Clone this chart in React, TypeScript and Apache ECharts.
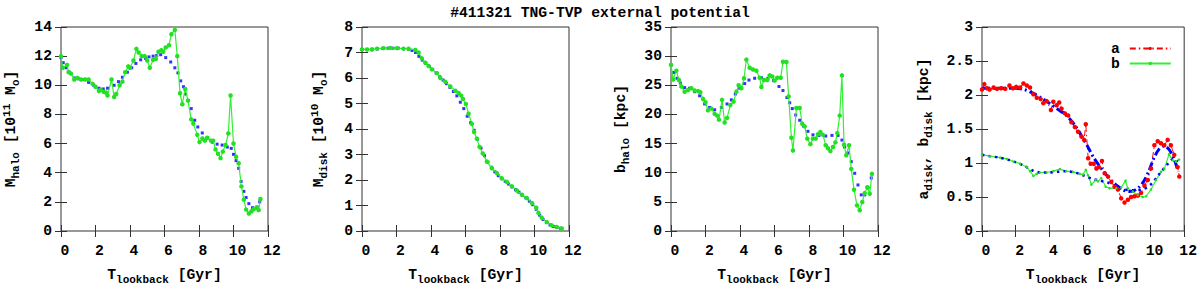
import React, { useEffect, useRef } from "react";
import * as echarts from "echarts";

const FONT = "'Liberation Mono', 'DejaVu Sans Mono', monospace";

const TITLE = "#411321 TNG-TVP external potential";
const X_TICKS = { min: 0, max: 12, interval: 2 };

// Panel 1: M_halo
const T_MHALO = [0, 0.1, 0.35, 0.44, 0.58, 0.77, 0.96, 1.16, 1.4, 1.6, 1.83, 2.0, 2.2, 2.3, 2.47, 2.6, 2.7, 2.93, 3.08, 3.2, 3.4, 3.56, 3.72, 3.9, 4.0, 4.2, 4.37, 4.5, 4.68, 4.85, 5.0, 5.15, 5.34, 5.5, 5.65, 5.82, 5.93, 6.07, 6.26, 6.4, 6.6, 6.74, 6.9, 7.03, 7.2, 7.36, 7.55, 7.67, 7.9, 8.03, 8.2, 8.34, 8.48, 8.7, 8.82, 8.96, 9.1, 9.25, 9.38, 9.54, 9.7, 9.83, 10.0, 10.15, 10.3, 10.46, 10.6, 10.73, 10.89, 11.04, 11.17, 11.33, 11.46, 11.56];
const V_MHALO = [12.0, 11.2, 11.4, 10.9, 10.8, 10.4, 10.5, 10.4, 10.4, 10.4, 10.1, 9.9, 9.6, 9.7, 9.55, 9.5, 9.3, 10.4, 9.2, 9.4, 10.0, 10.25, 10.9, 11.3, 11.2, 11.7, 12.5, 12.25, 12.0, 12.0, 11.7, 11.2, 11.75, 11.8, 12.3, 12.4, 12.3, 12.6, 12.75, 13.5, 13.8, 12.0, 9.45, 8.7, 9.75, 8.95, 7.66, 7.37, 6.6, 6.1, 6.35, 6.2, 6.4, 6.2, 6.2, 5.6, 5.3, 5.0, 5.45, 5.9, 6.7, 9.3, 6.0, 5.1, 4.65, 3.06, 2.15, 1.47, 1.2, 1.36, 1.5, 1.6, 1.43, 2.2];
const T_MHALO_FIT = [0, 0.13, 0.3, 0.48, 0.77, 1.0, 1.25, 1.6, 1.9, 2.2, 2.45, 2.7, 3.08, 3.33, 3.56, 3.85, 4.1, 4.34, 4.62, 4.9, 5.1, 5.34, 5.55, 5.78, 6.07, 6.36, 6.6, 6.78, 6.94, 7.1, 7.23, 7.38, 7.55, 7.75, 7.93, 8.19, 8.48, 8.77, 9.05, 9.34, 9.64, 9.87, 10.0, 10.15, 10.3, 10.44, 10.6, 10.73, 10.89, 11.1, 11.37, 11.52];
const V_MHALO_FIT = [11.9, 11.55, 11.2, 10.9, 10.5, 10.45, 10.4, 10.2, 10.0, 9.8, 9.75, 9.8, 10.0, 10.25, 10.55, 10.9, 11.2, 11.5, 11.75, 11.85, 11.95, 12.0, 12.05, 12.1, 11.9, 11.6, 11.2, 10.85, 10.3, 9.9, 9.4, 8.96, 8.4, 7.6, 7.14, 6.73, 6.4, 6.1, 5.96, 5.9, 5.76, 5.67, 5.26, 4.83, 4.3, 3.4, 2.72, 2.3, 1.88, 1.6, 1.65, 2.0];

// Panel 2: M_disk
const T_MDISK = [0, 0.29, 0.58, 0.87, 1.25, 1.64, 2.03, 2.41, 2.7, 3.09, 3.28, 3.47, 3.67, 3.86, 4.05, 4.34, 4.54, 4.83, 5.12, 5.41, 5.6, 5.75, 5.85, 6.02, 6.18, 6.37, 6.5, 6.66, 6.81, 7.0, 7.24, 7.53, 7.82, 8.1, 8.4, 8.69, 8.98, 9.27, 9.56, 9.85, 10.1, 10.23, 10.42, 10.71, 11.0, 11.29, 11.58];
const V_MDISK = [7.12, 7.12, 7.12, 7.15, 7.17, 7.18, 7.17, 7.15, 7.15, 7.1, 7.0, 6.77, 6.6, 6.47, 6.34, 6.19, 6.0, 5.85, 5.67, 5.5, 5.41, 5.31, 5.18, 4.98, 4.6, 4.2, 3.88, 3.62, 3.3, 3.04, 2.72, 2.46, 2.27, 2.07, 1.92, 1.75, 1.59, 1.42, 1.29, 1.1, 0.91, 0.71, 0.52, 0.35, 0.22, 0.16, 0.1];
const T_MDISK_FIT = [0, 0.3, 0.6, 0.9, 1.2, 1.5, 1.8, 2.1, 2.4, 2.7, 2.9, 3.1, 3.3, 3.5, 3.7, 3.9, 4.1, 4.3, 4.5, 4.7, 4.9, 5.1, 5.3, 5.5, 5.7, 5.9, 6.1, 6.3, 6.5, 6.7, 6.9, 7.1, 7.3, 7.5, 7.7, 7.9, 8.1, 8.3, 8.5, 8.7, 8.9, 9.1, 9.3, 9.5, 9.7, 9.9, 10.1, 10.3, 10.5, 10.7, 10.9, 11.1, 11.3, 11.5];
const V_MDISK_FIT = [7.12, 7.12, 7.13, 7.14, 7.16, 7.17, 7.17, 7.17, 7.15, 7.13, 7.08, 7.0, 6.85, 6.7, 6.57, 6.45, 6.33, 6.2, 6.05, 5.92, 5.78, 5.63, 5.47, 5.3, 5.05, 4.8, 4.5, 4.25, 3.95, 3.6, 3.25, 2.95, 2.7, 2.5, 2.32, 2.17, 2.05, 1.95, 1.84, 1.73, 1.62, 1.52, 1.4, 1.3, 1.17, 1.03, 0.85, 0.62, 0.45, 0.33, 0.24, 0.18, 0.14, 0.11];

// Panel 3: b_halo
const T_BHALO = [0, 0.12, 0.31, 0.46, 0.6, 0.79, 0.99, 1.18, 1.37, 1.57, 1.7, 1.86, 2.0, 2.14, 2.34, 2.53, 2.67, 2.78, 2.96, 3.11, 3.25, 3.44, 3.63, 3.79, 3.92, 4.08, 4.23, 4.37, 4.56, 4.75, 4.95, 5.14, 5.24, 5.39, 5.58, 5.72, 5.87, 6.01, 6.16, 6.36, 6.49, 6.69, 6.82, 6.98, 7.07, 7.27, 7.46, 7.61, 7.75, 7.9, 8.08, 8.23, 8.39, 8.52, 8.66, 8.81, 8.97, 9.1, 9.24, 9.39, 9.53, 9.64, 9.78, 9.91, 10.03, 10.16, 10.32, 10.45, 10.61, 10.78, 10.94, 11.09, 11.23, 11.38, 11.52, 11.65];
const V_BHALO = [28.5, 26.0, 27.5, 25.9, 24.8, 23.9, 24.2, 24.5, 24.1, 24.0, 23.8, 22.65, 22.1, 20.7, 21.0, 20.1, 19.8, 19.1, 22.5, 18.6, 19.4, 21.6, 22.2, 23.9, 25.0, 24.5, 26.2, 29.4, 28.0, 27.7, 27.5, 26.3, 24.7, 25.9, 25.9, 26.7, 26.5, 25.8, 26.3, 26.3, 29.05, 29.0, 23.1, 16.0, 13.8, 21.1, 21.1, 18.4, 17.95, 15.85, 14.9, 15.85, 15.85, 16.6, 17.0, 16.5, 14.7, 14.2, 13.7, 14.4, 15.2, 16.8, 19.8, 26.7, 14.8, 13.0, 14.7, 10.65, 7.08, 4.4, 3.57, 4.98, 6.5, 7.5, 6.4, 9.8];
const T_BHALO_FIT = [0, 0.15, 0.35, 0.54, 0.79, 1.08, 1.37, 1.66, 1.95, 2.24, 2.53, 2.92, 3.25, 3.5, 3.73, 3.98, 4.27, 4.52, 4.85, 5.24, 5.62, 5.95, 6.26, 6.49, 6.72, 6.88, 7.03, 7.23, 7.46, 7.69, 7.94, 8.23, 8.58, 8.97, 9.33, 9.68, 9.91, 10.07, 10.26, 10.45, 10.65, 10.84, 11.03, 11.23, 11.42, 11.61];
const V_BHALO_FIT = [28.5, 27.2, 26.2, 25.4, 24.6, 24.5, 23.9, 23.2, 21.8, 21.2, 20.8, 21.2, 21.8, 22.5, 23.5, 24.5, 25.3, 25.9, 26.2, 26.3, 26.2, 25.8, 24.8, 24.1, 22.9, 22.0, 21.0, 19.9, 19.0, 18.0, 17.1, 16.5, 16.4, 16.3, 16.4, 16.4, 15.6, 14.4, 13.4, 11.9, 9.9, 7.9, 6.2, 6.2, 7.4, 9.1];

// Panel 4: a_disk, b_disk
const T_ADISK = [0, 0.14, 0.3, 0.45, 0.69, 0.89, 1.14, 1.38, 1.63, 1.83, 2.03, 2.26, 2.46, 2.66, 2.85, 3.05, 3.25, 3.48, 3.64, 3.84, 4.09, 4.23, 4.43, 4.58, 4.72, 4.92, 5.11, 5.31, 5.51, 5.7, 5.9, 6.06, 6.16, 6.3, 6.45, 6.63, 6.79, 6.94, 7.12, 7.28, 7.48, 7.67, 7.87, 8.07, 8.26, 8.46, 8.66, 8.85, 9.05, 9.25, 9.44, 9.64, 9.84, 10.03, 10.23, 10.43, 10.62, 10.82, 11.02, 11.21, 11.41, 11.61, 11.71];
const V_ADISK = [2.08, 2.16, 2.1, 2.08, 2.11, 2.09, 2.1, 2.09, 2.14, 2.1, 2.12, 2.11, 2.17, 2.14, 2.11, 2.01, 1.96, 1.94, 1.88, 1.91, 1.78, 1.9, 1.85, 1.89, 1.8, 1.73, 1.7, 1.6, 1.53, 1.46, 1.39, 1.34, 1.57, 1.07, 0.99, 0.99, 0.92, 0.94, 1.03, 0.85, 0.8, 0.72, 0.65, 0.61, 0.48, 0.42, 0.46, 0.5, 0.51, 0.52, 0.56, 0.67, 0.75, 0.92, 1.26, 1.32, 1.29, 1.26, 1.34, 1.26, 1.12, 0.94, 0.8];
const T_ADISK_FIT = [0, 0.5, 1, 1.5, 2, 2.5, 3, 3.5, 4, 4.5, 5, 5.5, 6, 6.3, 6.6, 6.9, 7.2, 7.5, 7.8, 8.1, 8.4, 8.7, 9.0, 9.3, 9.6, 9.9, 10.2, 10.5, 10.8, 11.1, 11.4, 11.65];
const V_ADISK_FIT = [2.1, 2.1, 2.1, 2.1, 2.1, 2.08, 2.03, 1.96, 1.88, 1.79, 1.7, 1.56, 1.36, 1.23, 1.09, 0.98, 0.88, 0.79, 0.71, 0.65, 0.6, 0.58, 0.59, 0.64, 0.73, 0.88, 1.07, 1.2, 1.25, 1.2, 1.06, 0.87];
const T_BDISK = [0, 0.49, 1.08, 1.47, 1.87, 2.26, 2.66, 2.85, 3.05, 3.25, 3.44, 3.84, 4.23, 4.62, 5.0, 5.4, 5.8, 6.0, 6.16, 6.29, 6.49, 6.75, 6.89, 7.08, 7.34, 7.57, 7.97, 8.26, 8.52, 8.65, 8.95, 9.24, 9.54, 9.74, 10.03, 10.33, 10.62, 10.82, 11.1, 11.31, 11.51, 11.7];
const V_BDISK = [1.12, 1.1, 1.08, 1.06, 1.02, 0.99, 0.94, 0.88, 0.81, 0.84, 0.86, 0.86, 0.88, 0.91, 0.88, 0.87, 0.84, 0.83, 0.9, 0.82, 0.68, 0.75, 0.73, 0.78, 0.65, 0.63, 0.63, 0.64, 0.74, 0.63, 0.58, 0.53, 0.5, 0.51, 0.61, 0.75, 0.87, 0.91, 1.13, 1.04, 1.02, 1.05];
const T_BDISK_FIT = [0, 0.5, 1, 1.5, 2, 2.5, 3, 3.5, 4, 4.5, 5, 5.5, 6, 6.5, 7, 7.5, 8, 8.5, 9, 9.5, 10, 10.5, 11, 11.3, 11.65];
const V_BDISK_FIT = [1.12, 1.1, 1.08, 1.05, 1.01, 0.96, 0.89, 0.86, 0.86, 0.87, 0.88, 0.86, 0.82, 0.77, 0.74, 0.71, 0.65, 0.61, 0.6, 0.61, 0.68, 0.83, 0.98, 1.05, 1.03];

const Y_RANGES = [
  { min: 0, max: 14, interval: 2 },
  { min: 0, max: 8, interval: 1 },
  { min: 0, max: 35, interval: 5 },
  { min: 0, max: 3, interval: 0.5 },
];
const X_NAME = "{b|T}{s|lookback}{b| [Gyr]}";
const Y_NAMES = [
  "{b|M}{s|halo}{b| [10}{p|11}{b| M}{s|o}{b|]}",
  "{b|M}{s|disk}{b| [10}{p|10}{b| M}{s|o}{b|]}",
  "{b|b}{s|halo}{b| [kpc]}",
  "{b|a}{s|disk}{b|, b}{s|disk}{b| [kpc]}",
];
const LEGEND = ["a", "b"];

const zip = (t: number[], v: number[]) => t.map((x, i) => [x, v[i]]);

const PANELS = [
  { left: 61, width: 207, yGap: 40 },
  { left: 362, width: 207, yGap: 33 },
  { left: 671, width: 207, yGap: 40 },
  { left: 982, width: 203, yGap: 48 },
];

const base = { fontFamily: FONT, fontWeight: "bold" as const, color: "#000" };
const rich = {
  b: { ...base, fontSize: 14.7, lineHeight: 17, verticalAlign: "bottom", padding: [2, 0, 3, 0] },
  s: { ...base, fontSize: 11, lineHeight: 13, verticalAlign: "bottom" },
  p: { ...base, fontSize: 11, lineHeight: 13, verticalAlign: "bottom", padding: [0, 0, 9, 0] },
};
const tick = { inside: true, length: 6, lineStyle: { color: "#333", width: 1 } };
const label = { ...base, fontSize: 14.7 };

function buildOption() {
  const grid = PANELS.map((p) => ({
    left: p.left, top: 27, width: p.width, height: 206,
    show: true, borderColor: "#333", borderWidth: 1, backgroundColor: "transparent",
  }));
  const xAxis: any[] = [];
  const yAxis: any[] = [];
  PANELS.forEach((p, i) => {
    xAxis.push({
      gridIndex: i, type: "value", position: "bottom", ...X_TICKS,
      axisLine: { show: false }, axisTick: tick, splitLine: { show: false },
      axisLabel: { ...label, margin: 12, padding: [0, 0, 0, 8] },
      name: X_NAME, nameLocation: "middle", nameGap: 37, nameTextStyle: { rich },
    });
    xAxis.push({
      gridIndex: i, type: "value", position: "top", ...X_TICKS,
      axisLine: { show: false }, axisTick: tick, splitLine: { show: false },
      axisLabel: { show: false },
    });
    yAxis.push({
      gridIndex: i, type: "value", position: "left", ...Y_RANGES[i],
      axisLine: { show: false }, axisTick: tick, splitLine: { show: false },
      axisLabel: { ...label, margin: 9, lineHeight: 13 },
      name: Y_NAMES[i], nameLocation: "middle", nameRotate: 90, nameGap: p.yGap,
      nameTextStyle: { rich },
    });
    yAxis.push({
      gridIndex: i, type: "value", position: "right", ...Y_RANGES[i],
      axisLine: { show: false }, axisTick: tick, splitLine: { show: false },
      axisLabel: { show: false },
    });
  });

  const green = "#33f033";
  const blue = "#0000ff";
  const dataLine = (i: number, t: number[], v: number[]) => ({
    type: "line", xAxisIndex: 2 * i, yAxisIndex: 2 * i, data: zip(t, v),
    lineStyle: { color: green, width: 1.2 }, itemStyle: { color: "#22e022" },
    symbol: "circle", symbolSize: 4.5, showSymbol: true,
  });
  const fitDots = (i: number, t: number[], v: number[]) => ({
    type: "scatter", xAxisIndex: 2 * i, yAxisIndex: 2 * i, data: zip(t, v),
    symbol: "rect", symbolSize: 3, itemStyle: { color: blue },
  });

  const series: any[] = [
    dataLine(0, T_MHALO, V_MHALO), fitDots(0, T_MHALO_FIT, V_MHALO_FIT),
    dataLine(1, T_MDISK, V_MDISK), fitDots(1, T_MDISK_FIT, V_MDISK_FIT),
    dataLine(2, T_BHALO, V_BHALO), fitDots(2, T_BHALO_FIT, V_BHALO_FIT),
    {
      name: LEGEND[0], type: "line", xAxisIndex: 6, yAxisIndex: 6, data: zip(T_ADISK, V_ADISK),
      lineStyle: { color: "#ff0000", width: 1, type: [6, 3, 1.5, 3] }, itemStyle: { color: "#ff0000" },
      symbol: "circle", symbolSize: 4.5,
    },
    {
      name: LEGEND[1], type: "line", xAxisIndex: 6, yAxisIndex: 6, data: zip(T_BDISK, V_BDISK),
      lineStyle: { color: green, width: 1.2 }, itemStyle: { color: "#22e022" },
      symbol: "circle", symbolSize: 2.5,
    },
    {
      type: "line", xAxisIndex: 6, yAxisIndex: 6, data: zip(T_ADISK_FIT, V_ADISK_FIT),
      lineStyle: { color: blue, width: 3, type: [8, 3, 2, 3] }, symbol: "none", smooth: 0.3,
    },
    {
      type: "line", xAxisIndex: 6, yAxisIndex: 6, data: zip(T_BDISK_FIT, V_BDISK_FIT),
      lineStyle: { color: blue, width: 2.5, type: [2.5, 4] }, symbol: "none", smooth: 0.3,
    },
  ];

  return {
    animation: false,
    backgroundColor: "#fff",
    title: {
      text: TITLE, left: "center", top: 0,
      textStyle: { ...base, fontSize: 14.7, lineHeight: 15 },
    },
    legend: {
      data: LEGEND, orient: "vertical", left: 1106, top: 36, align: "right",
      itemWidth: 41, itemHeight: 4, itemGap: 0, selectedMode: false,
      textStyle: { ...base, fontSize: 14.7, padding: [0, 5, 0, 0] },
    },
    grid, xAxis, yAxis, series,
  };
}

export default function App() {
  const ref = useRef<HTMLDivElement>(null);
  useEffect(() => {
    document.body.style.margin = "0";
    const chart = echarts.init(ref.current!, undefined, { renderer: "svg" });
    chart.setOption(buildOption() as any);
    return () => chart.dispose();
  }, []);
  return <div ref={ref} style={{ width: 1200, height: 290 }} />;
}
